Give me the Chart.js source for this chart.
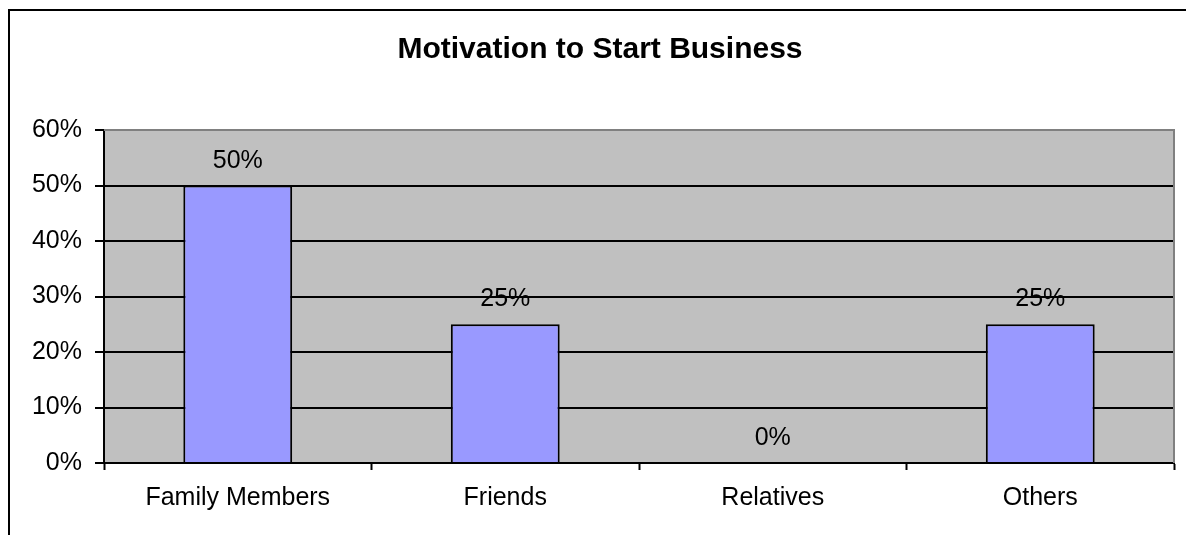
<!DOCTYPE html>
<html>
<head>
<meta charset="utf-8">
<script src="https://cdn.jsdelivr.net/npm/chart.js@4"></script>
<style>
  html, body { margin: 0; padding: 0; background: #fff; overflow: hidden; }
  #wrap { width: 1186px; height: 535px; position: relative; overflow: hidden; }
</style>
</head>
<body>
<div id="wrap"><canvas id="motivation-chart" width="1186" height="535"></canvas></div>
<script>
// --- data ---
const categories = ['Family Members', 'Friends', 'Relatives', 'Others'];
const shares = [50, 25, 0, 25]; // percent
const yTicks = [0, 10, 20, 30, 40, 50, 60];
const chartTitle = 'Motivation to Start Business';

const FONT = '"Liberation Sans", Arial, sans-serif';

// outer frame + grey plot background
const framePlugin = {
    id: 'frame',
    beforeDraw(chart) {
        const ctx = chart.ctx;
        const a = chart.chartArea;
        ctx.save();
        ctx.fillStyle = '#fff';
        ctx.fillRect(0, 0, chart.width, chart.height);
        ctx.strokeStyle = '#000';
        ctx.lineWidth = 2;
        ctx.strokeRect(9, 10, chart.width + 20, chart.height + 20);
        ctx.fillStyle = '#c0c0c0';
        ctx.fillRect(a.left, a.top, a.right - a.left, a.bottom - a.top);
        ctx.restore();
    },
    afterDraw(chart) {
        const ctx = chart.ctx;
        const a = chart.chartArea;
        ctx.save();
        ctx.strokeStyle = '#808080';
        ctx.lineWidth = 2;
        ctx.beginPath();
        ctx.moveTo(a.left, a.top);
        ctx.lineTo(a.right, a.top);
        ctx.lineTo(a.right, a.bottom);
        ctx.stroke();
        ctx.restore();
    }
};

// percentage labels above each bar
const valueLabels = {
    id: 'valueLabels',
    afterDatasetsDraw(chart) {
        const ctx = chart.ctx;
        const meta = chart.getDatasetMeta(0);
        ctx.save();
        ctx.font = '25px ' + FONT;
        ctx.fillStyle = '#000';
        ctx.textAlign = 'center';
        ctx.textBaseline = 'alphabetic';
        meta.data.forEach((bar, i) => {
            ctx.fillText(shares[i] + '%', bar.x, bar.y - 18);
        });
        ctx.restore();
    }
};

new Chart(document.getElementById('motivation-chart'), {
    type: 'bar',
    data: {
        labels: categories,
        datasets: [{
            data: shares,
            backgroundColor: '#9999ff',
            borderColor: '#000',
            borderWidth: 2,
            borderSkipped: 'bottom',
            barPercentage: 0.407,
            categoryPercentage: 1
        }]
    },
    options: {
        responsive: false,
        animation: false,
        // left padding 26 so the title centres at x=600 like the original
        layout: { padding: { left: 26, right: 12, top: 0, bottom: 0 } },
        scales: {
            x: {
                offset: true,
                afterFit: s => { s.height = 72; },
                grid: {
                    offset: true,
                    drawOnChartArea: false,
                    drawTicks: true,
                    tickLength: 7,
                    tickColor: '#000',
                    tickWidth: 2
                },
                border: { display: true, color: '#000', width: 2 },
                ticks: {
                    color: '#000',
                    padding: 13,
                    font: { family: FONT, size: 25 },
                    maxRotation: 0
                }
            },
            y: {
                min: 0,
                max: 60,
                afterFit: s => { s.width = 78; },
                afterBuildTicks: s => { s.ticks = yTicks.map(v => ({ value: v })); },
                grid: {
                    color: c => (c.tick && c.tick.value === 60 ? '#808080' : '#000'),
                    lineWidth: c => (c.tick && c.tick.value === 60 ? 0 : 2),
                    tickLength: 9,
                    tickColor: '#000',
                    tickWidth: 2
                },
                border: { display: true, color: '#000', width: 2 },
                ticks: {
                    color: '#000',
                    padding: 13,
                    font: { family: FONT, size: 25 },
                    callback: v => v + '%'
                }
            }
        },
        plugins: {
            legend: { display: false },
            tooltip: { enabled: false },
            title: {
                display: true,
                text: chartTitle,
                color: '#000',
                font: { family: FONT, size: 30, weight: 'bold' },
                padding: { top: 32, bottom: 62 }
            }
        }
    },
    plugins: [framePlugin, valueLabels]
});
</script>
</body>
</html>
